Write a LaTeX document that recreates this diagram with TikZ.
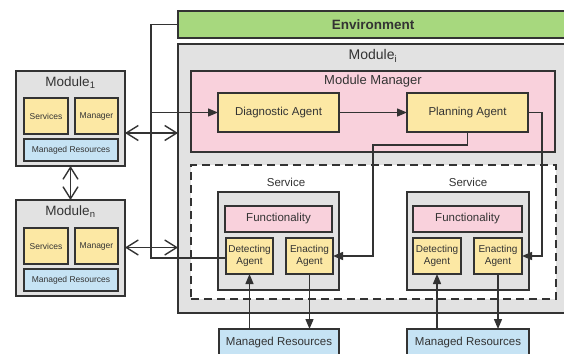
\documentclass[tikz,border=0pt]{standalone}
\usepackage{fontspec}
\setmainfont{Liberation Sans}
\usetikzlibrary{arrows.meta}
\definecolor{bord}{HTML}{333333}
\definecolor{txt}{HTML}{333333}
\definecolor{gry}{HTML}{E2E2E2}
\definecolor{pnk}{HTML}{F9D1DC}
\definecolor{ylw}{HTML}{FCE8A4}
\definecolor{blu}{HTML}{C6E3F4}
\definecolor{envg}{HTML}{A7D87E}
\newcommand{\fs}[1]{\fontsize{#1}{#1}\selectfont}
\begin{document}
\begin{tikzpicture}[x=1pt,y=-1pt,
  every node/.style={outer sep=0pt, inner sep=0pt, text=txt},
  bx/.style={draw=bord, line width=1.6pt, anchor=north west},
  conn/.style={draw=bord, line width=1.4pt},
  fa/.style={conn, -{Triangle[length=10pt,width=8pt]}},
  da/.style={conn, {Straight Barb[length=12pt,width=15pt]}-{Straight Barb[length=12pt,width=15pt]}},
  two/.style={align=center, font=\fontsize{10}{12}\selectfont},
]
\useasboundingbox (0,0) rectangle (564,353);
\clip (0,0) rectangle (564,353);
\fill[white] (0,0) rectangle (564,353);

% Environment
\node[bx, fill=envg, minimum width=400, minimum height=27] (env) at (178,11) {};
\node[font=\bfseries\fs{13.5}] (envl) at (373,24.5) {Environment};

% Module i
\node[bx, fill=gry, minimum width=400, minimum height=269] (modi) at (178,44) {};
\node[font=\fs{14}] (modil) at (373,56) {Module\textsubscript{i}};

% Module Manager
\node[bx, fill=pnk, minimum width=364, minimum height=81] (mm) at (191,71) {};
\node[font=\fs{13}] (mml) at (373,81) {Module Manager};
\node[bx, fill=ylw, minimum width=121, minimum height=39, font=\fs{11.5}] (diag) at (218,93) {Diagnostic Agent};
\node[bx, fill=ylw, minimum width=121, minimum height=39, font=\fs{11.5}] (plan) at (407,93) {Planning Agent};

% Services area
\node[bx, fill=white, dashed, dash pattern=on 8pt off 5pt, minimum width=365, minimum height=134] (svcs) at (191,165) {};
\node[font=\fs{11.5}] (svlL) at (286,182) {Service};
\node[font=\fs{11.5}] (svlR) at (468,182) {Service};

\node[bx, fill=gry, minimum width=121, minimum height=98] (svcL) at (218,192) {};
\node[bx, fill=pnk, minimum width=107, minimum height=26, font=\fs{11.5}] (funL) at (225,206) {Functionality};
\node[bx, fill=ylw, minimum width=47, minimum height=36, two] (detL) at (226,238) {Detecting\\Agent};
\node[bx, fill=ylw, minimum width=47, minimum height=36, two] (enL) at (286,238) {Enacting\\Agent};

\node[bx, fill=gry, minimum width=122, minimum height=98] (svcR) at (407,192) {};
\node[bx, fill=pnk, minimum width=109, minimum height=26, font=\fs{11.5}] (funR) at (413,206) {Functionality};
\node[bx, fill=ylw, minimum width=48, minimum height=36, two] (detR) at (413,238) {Detecting\\Agent};
\node[bx, fill=ylw, minimum width=48, minimum height=36, two] (enR) at (474,238) {Enacting\\Agent};

% Managed resources bottom
\node[bx, fill=blu, minimum width=120, minimum height=27, font=\fs{11.5}] (mrL) at (219,329) {Managed Resources};
\node[bx, fill=blu, minimum width=122, minimum height=27, font=\fs{11.5}] (mrR) at (407,329) {Managed Resources};

% Left modules
\node[bx, fill=gry, minimum width=109, minimum height=95] (mod1) at (16,71) {};
\node[font=\fs{13.5}] (mod1l) at (70.5,83) {Module\textsubscript{1}};
\node[bx, fill=ylw, minimum width=44, minimum height=36, font=\fs{8.5}] (sv1) at (24,98) {Services};
\node[bx, fill=ylw, minimum width=43, minimum height=36, font=\fs{8.5}] (mg1) at (75,98) {Manager};
\node[bx, fill=blu, minimum width=94, minimum height=22, font=\fs{8.5}] (mr1) at (24,139) {Managed Resources};

\node[bx, fill=gry, minimum width=109, minimum height=96] (modn) at (16,200) {};
\node[font=\fs{13.5}] (modnl) at (70.5,212) {Module\textsubscript{n}};
\node[bx, fill=ylw, minimum width=44, minimum height=36, font=\fs{8.5}] (svn) at (24,228) {Services};
\node[bx, fill=ylw, minimum width=43, minimum height=36, font=\fs{8.5}] (mgn) at (75,228) {Manager};
\node[bx, fill=blu, minimum width=94, minimum height=22, font=\fs{8.5}] (mrn) at (24,269) {Managed Resources};

% Connectors
\coordinate (j1) at (151,112.5);
\coordinate (j2) at (151,258);
\draw[conn] (env.west) -| (j2) -- (j2 -| detL.west);
\draw[fa] (j1) -- (diag.west);
\draw[fa] (diag) -- (plan);
\coordinate (c1) at (373,145);
\coordinate (c2) at (542,256);
\draw[fa] (plan.south) |- (c1) -- (c1 |- enL.east) -- (enL.east);
\draw[fa] (plan.east) -| (c2) -- (enR.east);
\draw[fa] (enL.south) -- (enL.south |- mrL.north);
\draw[fa] (detL.south |- mrL.north) -- (detL.south);
\draw[fa] (enR.south) -- (enR.south |- mrR.north);
\draw[fa] (detR.south |- mrR.north) -- (detR.south);

\coordinate (a1) at (125,133);
\coordinate (a2) at (125,247.5);
\draw[da] (a1) -- (a1 -| modi.west);
\draw[da] (a2) -- (a2 -| modi.west);
\draw[da] (mod1.south) -- (modn.north);
\end{tikzpicture}
\end{document}
